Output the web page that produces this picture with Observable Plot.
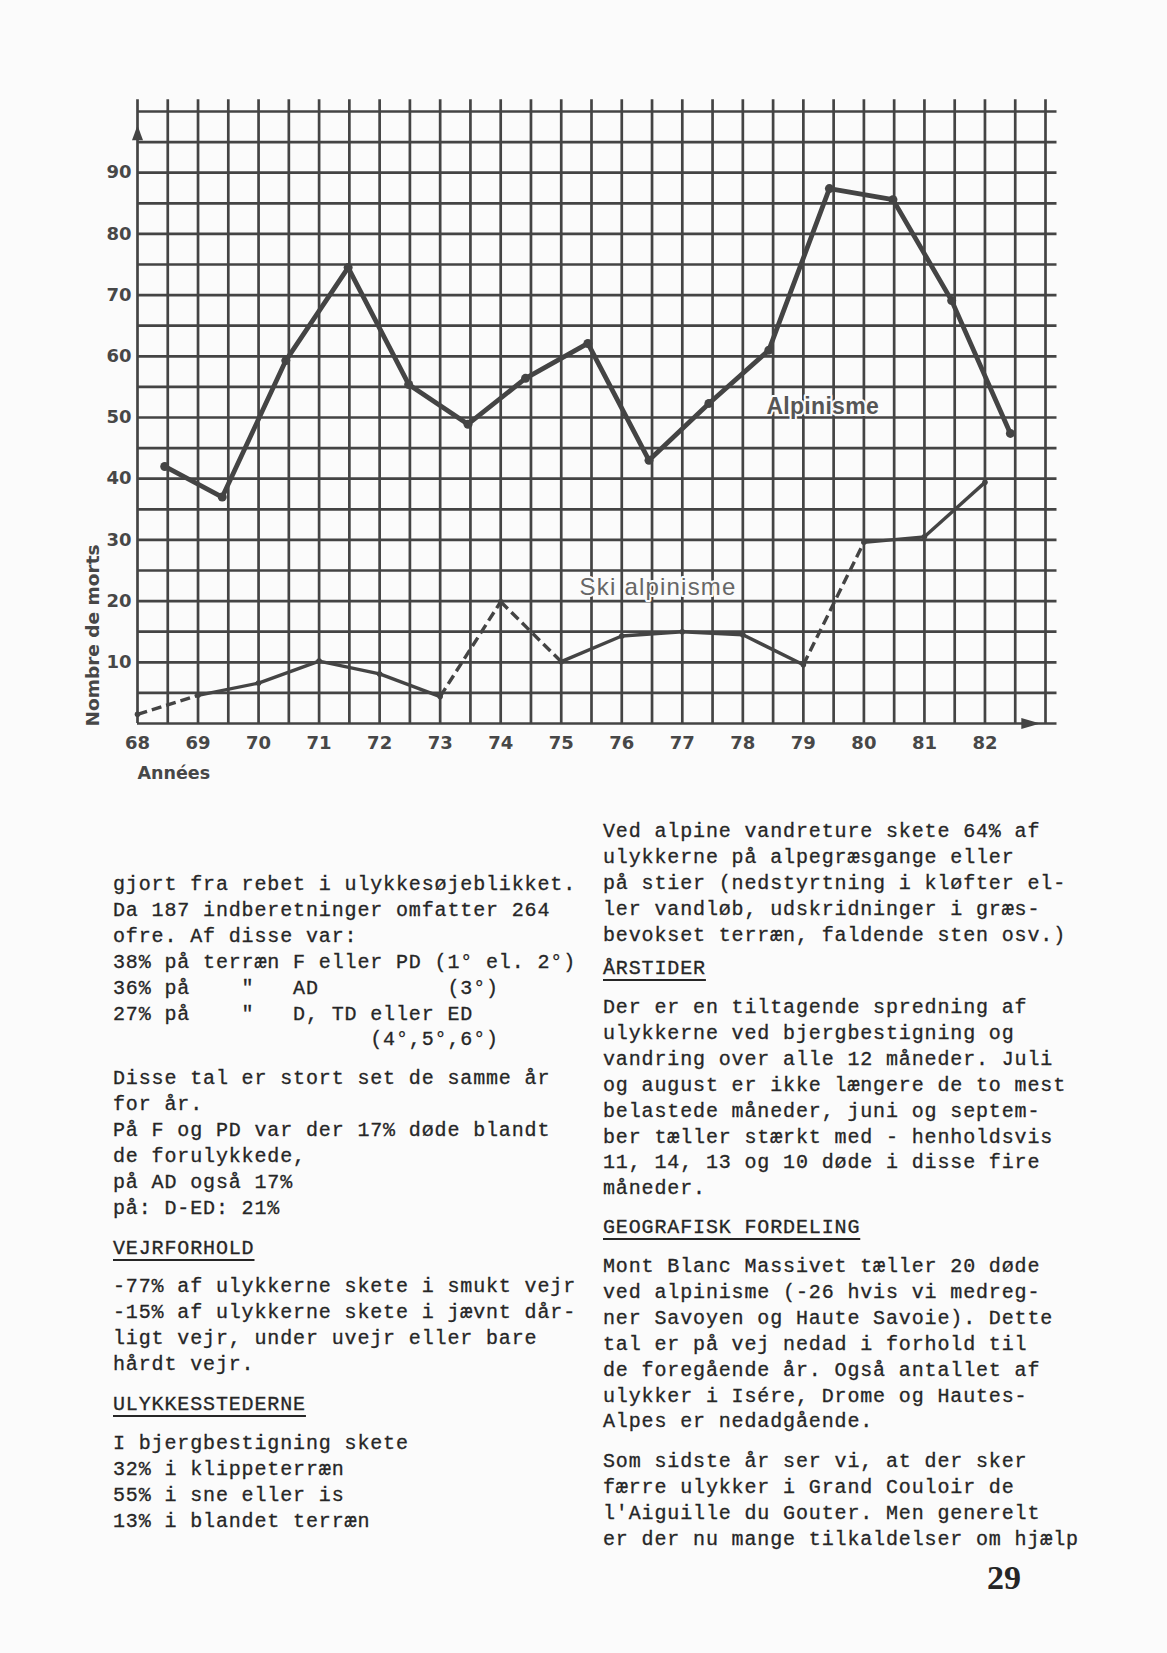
<!DOCTYPE html>
<html>
<head>
<meta charset="utf-8">
<script src="https://cdn.jsdelivr.net/npm/d3@7"></script>
<script src="https://cdn.jsdelivr.net/npm/@observablehq/plot@0.6"></script>
<style>
html, body { margin: 0; padding: 0; background: #fbfbfb; }
#page { position: relative; width: 1167px; height: 1653px; overflow: hidden; background: #fbfbfb; }
#chart { position: absolute; left: 0; top: 0; }
.col { position: absolute; font-family: "Liberation Mono", monospace; font-size: 20px; letter-spacing: 0.86px;
       line-height: 25.9px; color: #262626; -webkit-text-stroke: 0.3px #262626; white-space: pre; margin: 0; }
.h { text-decoration: underline; text-decoration-thickness: 2px; text-underline-offset: 5px; }
#pageno { position: absolute; left: 987px; top: 1561px; font-family: "Liberation Serif", serif; font-weight: bold;
          font-size: 34px; line-height: 34px; color: #262626; }
</style>
</head>
<body>
<div id="page">
  <div id="chart"></div>

  <div class="col" style="left:113px;top:872px">gjort fra rebet i ulykkesøjeblikket.
Da 187 indberetninger omfatter 264
ofre. Af disse var:
38% på terræn F eller PD (1° el. 2°)
36% på    "   AD          (3°)
27% på    "   D, TD eller ED
                    (4°,5°,6°)</div>

  <div class="col" style="left:113px;top:1066px">Disse tal er stort set de samme år
for år.
På F og PD var der 17% døde blandt
de forulykkede,
på AD også 17%
på: D-ED: 21%</div>

  <div class="col h" style="left:113px;top:1236px">VEJRFORHOLD</div>

  <div class="col" style="left:113px;top:1274px">-77% af ulykkerne skete i smukt vejr
-15% af ulykkerne skete i jævnt dår-
ligt vejr, under uvejr eller bare
hårdt vejr.</div>

  <div class="col h" style="left:113px;top:1392px">ULYKKESSTEDERNE</div>

  <div class="col" style="left:113px;top:1431px">I bjergbestigning skete
32% i klippeterræn
55% i sne eller is
13% i blandet terræn</div>

  <div class="col" style="left:603px;top:819px">Ved alpine vandreture skete 64% af
ulykkerne på alpegræsgange eller
på stier (nedstyrtning i kløfter el-
ler vandløb, udskridninger i græs-
bevokset terræn, faldende sten osv.)</div>

  <div class="col h" style="left:603px;top:956px">ÅRSTIDER</div>

  <div class="col" style="left:603px;top:995px">Der er en tiltagende spredning af
ulykkerne ved bjergbestigning og
vandring over alle 12 måneder. Juli
og august er ikke længere de to mest
belastede måneder, juni og septem-
ber tæller stærkt med - henholdsvis
11, 14, 13 og 10 døde i disse fire
måneder.</div>

  <div class="col h" style="left:603px;top:1215px">GEOGRAFISK FORDELING</div>

  <div class="col" style="left:603px;top:1254px">Mont Blanc Massivet tæller 20 døde
ved alpinisme (-26 hvis vi medreg-
ner Savoyen og Haute Savoie). Dette
tal er på vej nedad i forhold til
de foregående år. Også antallet af
ulykker i Isére, Drome og Hautes-
Alpes er nedadgående.</div>

  <div class="col" style="left:603px;top:1449px">Som sidste år ser vi, at der sker
færre ulykker i Grand Couloir de
l'Aiguille du Gouter. Men generelt
er der nu mange tilkaldelser om hjælp</div>

  <div id="pageno">29</div>
</div>

<script>
// ---- data ----
const years = [68, 69, 70, 71, 72, 73, 74, 75, 76, 77, 78, 79, 80, 81, 82];
const yTickLabels = [10, 20, 30, 40, 50, 60, 70, 80, 90];

// Alpinisme: points are plotted near the middle of each year interval
const alpinismeAt = [68.45, 69.4, 70.45, 71.48, 72.48, 73.46, 74.41, 75.44, 76.45, 77.44, 78.43, 79.43, 80.48, 81.45, 82.42];
const alpinisme   = [42, 37, 59.3, 74.5, 55.4, 48.9, 56.4, 62.1, 43, 52.3, 61, 87.4, 85.6, 69.1, 47.4];

// Ski alpinisme: points on the year lines
const skiAlpinisme = [1.5, 4.6, 6.6, 10.2, 8.1, 4.4, 19.9, 10.1, 14.3, 15, 14.5, 9.6, 29.6, 30.5, 39.4];
// years from which the ski segment is drawn dashed
const skiDashedFrom = [68, 73, 74, 79];

// series labels inside the grid
const labelNames  = ["Alpinisme", "Ski alpinisme"];
const labelYear   = [79.32, 76.6];
const labelValue  = [51.8, 22.3];

// grid
const gridX = d3.range(68, 83.001, 0.5);
const gridY = d3.range(0, 100.001, 5);

// ---- tables ----
const alpData = alpinismeAt.map((x, i) => ({x, y: alpinisme[i]}));
const skiData = years.map((x, i) => ({x, y: skiAlpinisme[i]}));
const skiSegs = skiData.slice(0, -1).map((d, i) => ({
  x1: d.x, y1: d.y, x2: skiData[i + 1].x, y2: skiData[i + 1].y,
  dashed: skiDashedFrom.includes(d.x)
}));
const labels = labelNames.map((t, i) => ({t, x: labelYear[i], y: labelValue[i]}));

const ink = "#444";
const arrowSymbol = (len, w) => ({
  draw(ctx) { ctx.moveTo(0, -len); ctx.lineTo(w / 2, 0); ctx.lineTo(-w / 2, 0); ctx.closePath(); }
});
const labelFont = "DejaVu Sans";
const labelInk = "#474747";

const chart = Plot.plot({
  width: 1167,
  height: 800,
  marginLeft: 137,
  marginRight: 122,
  marginTop: 111,
  marginBottom: 77,
  style: {background: "transparent", overflow: "visible"},
  x: {domain: [68, 83], axis: null},
  y: {domain: [0, 100], axis: null},
  marks: [
    // grid
    Plot.ruleX(gridX, {x: d => d, y1: 0, y2: 101.9, stroke: ink, strokeWidth: 2.7, strokeLinecap: "butt"}),
    Plot.ruleY(gridY, {y: d => d, x1: 68, x2: 83.19, stroke: ink, strokeWidth: 2.7, strokeLinecap: "butt"}),
    // axis arrows
    Plot.dot([{x: 68, y: 95.3}], {x: "x", y: "y", r: 5, symbol: arrowSymbol(15, 11), fill: ink, stroke: "none"}),
    Plot.dot([{x: 82.6, y: 0}], {x: "x", y: "y", r: 5, symbol: arrowSymbol(19, 11), rotate: 90, fill: ink, stroke: "none"}),
    // labels in the grid
    Plot.text(labels.slice(0, 1), {x: "x", y: "y", text: "t", fontFamily: "Liberation Sans", fontWeight: "bold",
      fontSize: 23, fill: "#555", stroke: "#fbfbfb", strokeWidth: 4, paintOrder: "stroke"}),
    Plot.text(labels.slice(1), {x: "x", y: "y", text: "t", fontFamily: "Liberation Sans",
      fontSize: 24, fill: "#666", stroke: "#fbfbfb", strokeWidth: 4, paintOrder: "stroke"}),
    // Ski alpinisme
    Plot.link(skiSegs.filter(d => !d.dashed), {x1: "x1", y1: "y1", x2: "x2", y2: "y2", stroke: ink, strokeWidth: 3.4}),
    Plot.link(skiSegs.filter(d => d.dashed), {x1: "x1", y1: "y1", x2: "x2", y2: "y2", stroke: ink, strokeWidth: 3.4,
      strokeDasharray: "10,5"}),
    Plot.dot(skiData, {x: "x", y: "y", r: 2.8, fill: ink, stroke: "none"}),
    // Alpinisme
    Plot.line(alpData, {x: "x", y: "y", stroke: ink, strokeWidth: 4.8, strokeLinejoin: "round"}),
    Plot.dot(alpData, {x: "x", y: "y", r: 4.5, fill: ink, stroke: "none"}),
    // tick labels
    Plot.text(years, {x: d => d, y: 0, dy: 20, text: d => String(d), fontFamily: labelFont, fontWeight: "bold",
      fontSize: 18, fill: labelInk}),
    Plot.text(yTickLabels, {x: 68, y: d => d, dx: -6, text: d => String(d), textAnchor: "end", fontFamily: labelFont,
      fontWeight: "bold", fontSize: 18, fill: labelInk}),
    // axis titles
    Plot.text(["Années"], {x: 68, y: 0, dy: 50, text: d => d, textAnchor: "start", fontFamily: labelFont,
      fontWeight: "bold", fontSize: 17.5, fill: labelInk}),
    Plot.text(["Nombre de morts"], {x: 68, y: 0, dx: -44, dy: 3, rotate: -90, text: d => d, textAnchor: "start",
      fontFamily: labelFont, fontWeight: "bold", fontSize: 18.5, fill: labelInk})
  ]
});

d3.select(chart).selectAll("text").filter(function () { return this.textContent === "Ski alpinisme"; })
  .style("letter-spacing", "1.2px");
d3.select(chart).selectAll("text").filter(function () { return this.textContent === "Alpinisme"; })
  .style("letter-spacing", "0.3px");

document.getElementById("chart").appendChild(chart);
</script>
</body>
</html>
